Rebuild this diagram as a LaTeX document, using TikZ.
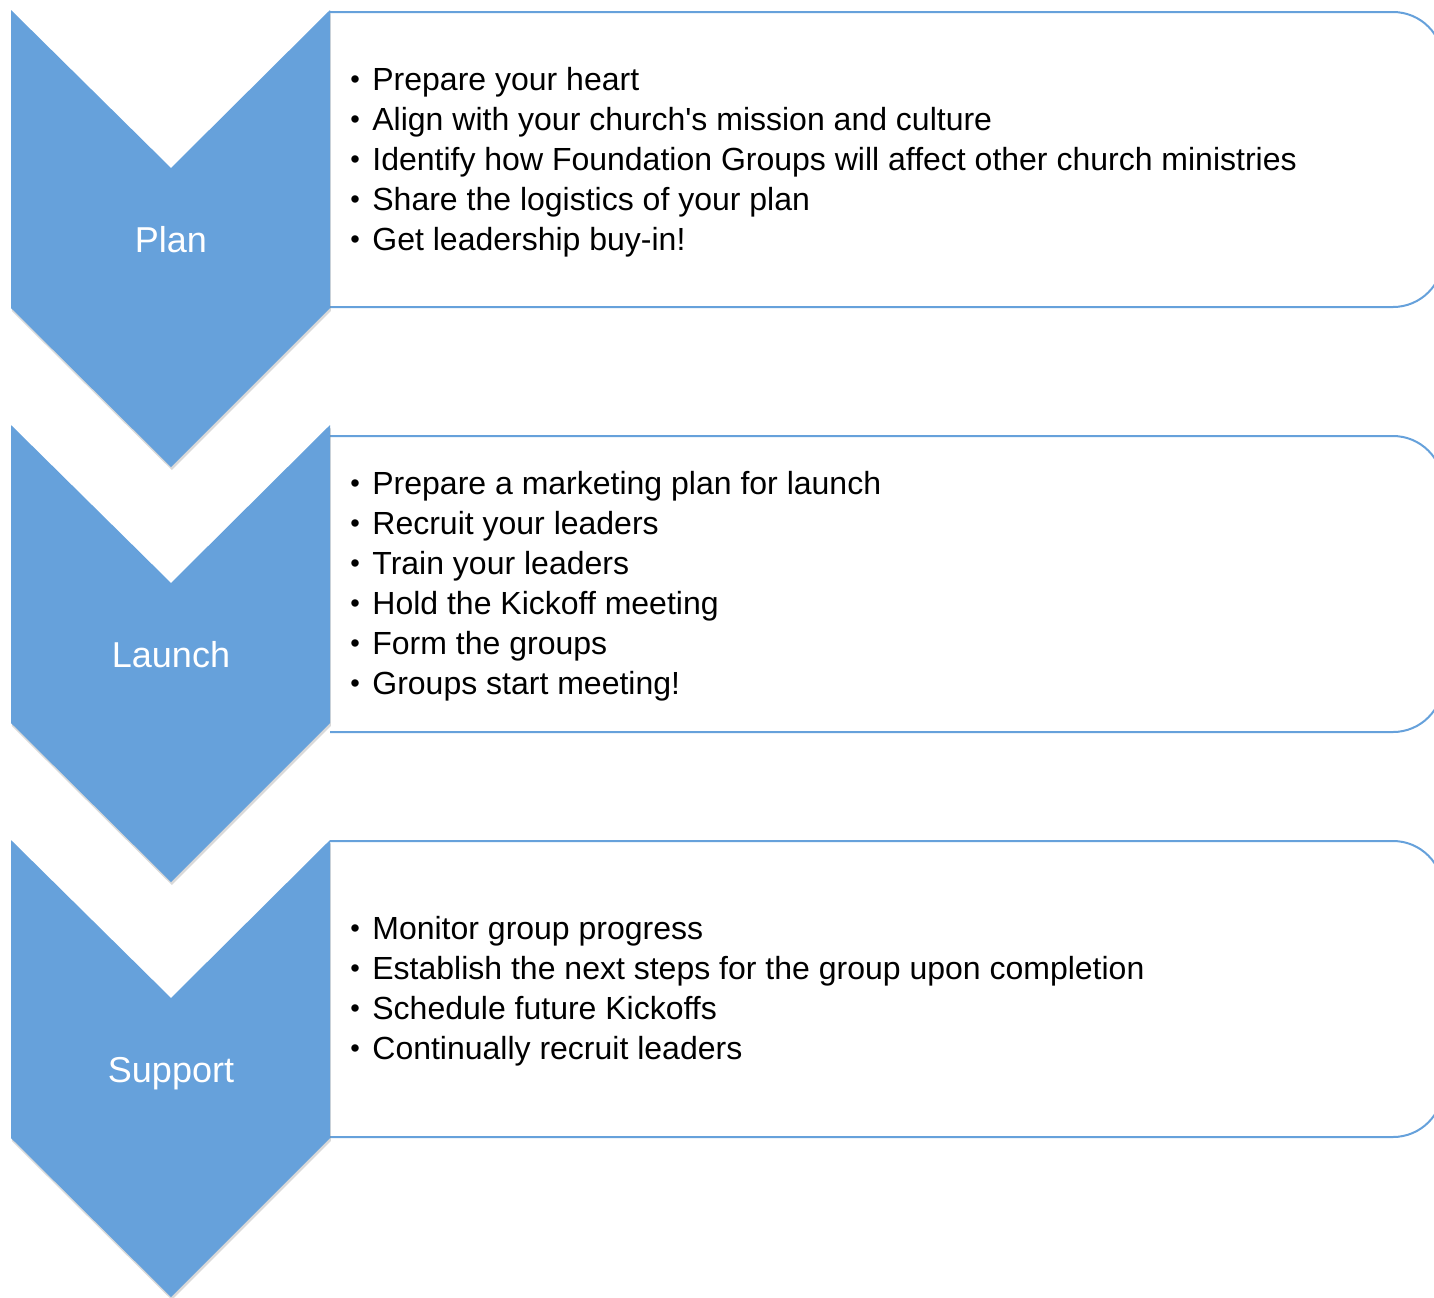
\documentclass[tikz,border=0pt]{standalone}
\usepackage{fontspec}
\setmainfont{Liberation Sans}
\usetikzlibrary{positioning, shadows}
\definecolor{stepblue}{HTML}{66A1DB}
\newcommand{\itm}{\makebox[11pt][l]{\raisebox{1pt}{\scalebox{0.85}{\textbullet}}}}

\begin{document}
\begin{tikzpicture}[
			x=0.5pt, y=-0.5pt,
			chevron/.style={fill=stepblue, drop shadow={shadow xshift=0.4pt, shadow yshift=-1.5pt, opacity=0.3}},
			frame/.style={draw=stepblue, line width=1pt, fill=white, rounded corners=25pt},
			steplabel/.style={text=white, font=\fontsize{18}{22}\selectfont, anchor=base},
			items/.style={anchor=west, align=left, inner sep=0pt, font=\fontsize{16}{20}\selectfont}
			]
			\useasboundingbox (0,0) rectangle (1434,1297);
			
			% --- Ramki i strzałki etapów ---
			\foreach \y/\t/\b/\name/\txt in {10/12/307/plan/Plan, 425/436/732/launch/Launch, 840/841/1137/support/Support} {
				\filldraw[frame] (330,\t) -- (1443,\t) -- (1443,\b) -- (330,\b); % Ramka listy
				\fill[chevron] (11,\y) -- (171,\y+158) -- (330,\y) -- (330,\y+298) -- (171,\y+457) -- (11,\y+298) -- cycle; % Strzałka
				\node[steplabel] (\name) at (171,\y+242) {\txt}; % Nazwa etapu
			}
			
			% --- Listy zadań ---
			\node[items] (planlist) at (350,162) {\itm Prepare your heart\\ \itm Align with your church\textquotesingle s mission and culture\\ \itm Identify how Foundation Groups will affect other church ministries\\ \itm Share the logistics of your plan\\ \itm Get leadership buy-in!};
			\node[items] (launchlist) at (350,586) {\itm Prepare a marketing plan for launch\\ \itm Recruit your leaders\\ \itm Train your leaders\\ \itm Hold the Kickoff meeting\\ \itm Form the groups\\ \itm Groups start meeting!};
			\node[items] (supportlist) at (350,991) {\itm Monitor group progress\\ \itm Establish the next steps for the group upon completion\\ \itm Schedule future Kickoffs\\ \itm Continually recruit leaders};
			
		\end{tikzpicture}
\end{document}
